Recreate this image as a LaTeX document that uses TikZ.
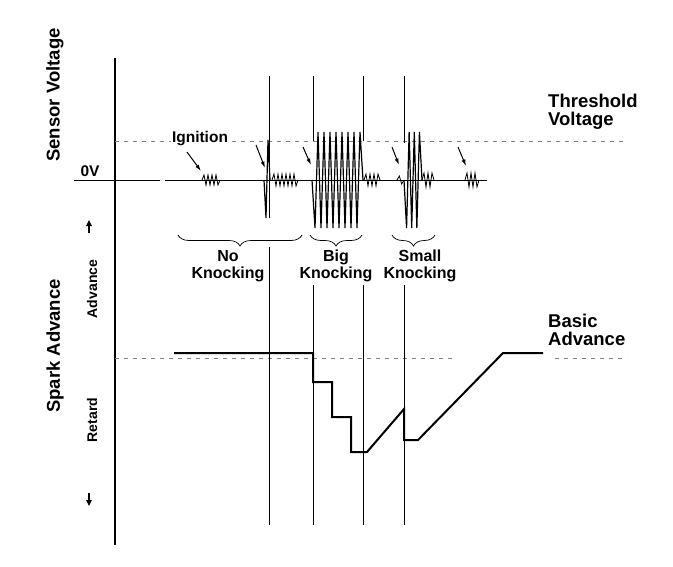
\documentclass[tikz,border=0pt]{standalone}
\usepackage{fontspec}
\setmainfont{Liberation Sans}
\usetikzlibrary{arrows.meta,decorations.pathreplacing}

\tikzset{
  signal/.style={line width=0.8pt},
  knock/.style={line width=1.2pt},
  spark/.style={line width=2pt},
  marker/.style={line width=0.5pt},
  level/.style={gray, line width=0.5pt, dash pattern=on 4pt off 5pt},
  pointer/.style={line width=1pt, -{Latex[length=6.5pt,width=4pt]}},
  dirarrow/.style={line width=1.2pt, -{Triangle[length=6pt,width=5.5pt]}},
  groupbrace/.style={decorate, decoration={brace, mirror, amplitude=11pt}, line width=0.7pt},
  bigtext/.style={font=\fontsize{18.5}{18.5}\selectfont\bfseries, inner sep=0pt, align=left},
  midtext/.style={font=\fontsize{16}{17.5}\selectfont\bfseries, inner sep=1pt, align=center, fill=white},
  smalltext/.style={font=\fontsize{14}{14}\selectfont\bfseries, inner sep=0pt}
}
% zigzag on the 0V line: from, to, amplitude, number of peaks, style
\newcommand\burst[5][signal]{%
  \draw[#1] (#2,180) \foreach \k in {1,...,#5} {
    -- ({#2+(#3-#2)*\k/(#5+1)},{180+#4*cos(180*\k)}) } -- (#3,180);
}

\begin{document}
\begin{tikzpicture}[x=1pt,y=-1pt]
    \useasboundingbox (0,0) rectangle (673,566);
    % Axis
    \draw[line width=1.3pt] (115,58) -- (115,545);
    % Levels
    \draw[level] (115,141) -- (627,141);
    \draw[level] (115,358) -- (455,358);
    \draw[level] (555,358) -- (627,358);
    % Markers (vertical lines)
    \foreach \x/\a/\b in {269/218/247, 313/141/285, 363/141/285, 404/143/285} {
      \draw[marker] (\x,76) -- (\x,\a);
      \draw[marker] (\x,\b) -- (\x,525);
    }
    % Sensor signal
    \draw[signal] (74,180) -- (160,180);
    \draw[signal] (165,180) -- (487,180);
    \burst{202}{220}{5}{8}
    \draw[knock] (264,180) -- (266,218) -- (268,140) -- (270,180);
    \burst{272}{298}{6}{12}
    \burst[knock]{312}{363}{-48}{16}
    \burst{364}{380}{6}{7}
    \burst{397}{404}{4}{2}
    \burst[knock]{404}{422}{-48}{6}
    \burst{422}{434}{7}{5}
    \burst{465}{479}{7}{6}
    % Pointers
    \foreach \n/\sx/\sy/\ex/\ey in {ign/187/152/201/171, spk/256/145/265/168,
        big/303/147/311/165, sml/392/147/399/165, lst/458/147/466/166} {
      \coordinate (\n-s) at (\sx,\sy);
      \coordinate (\n-e) at (\ex,\ey);
      \draw[pointer] (\n-s) -- (\n-e);
    }
    % Spark advance
    \draw[spark] (174,353) -- (313,353) -- (313,382) -- (332,382) -- (332,417)
      -- (351,417) -- (351,452) -- (367,452) -- (404,409) -- (404,440)
      -- (418,440) -- (503,353) -- (543,353);
    % Braces
    \draw[groupbrace] (178,235) -- (302,235);
    \draw[groupbrace] (310,235) -- (362,235);
    \draw[groupbrace] (392,235) -- (435,235);
    % Labels
    \node[bigtext, rotate=90] (sensor) at (55,95) {Sensor Voltage};
    \node[bigtext, rotate=90] (sparkadv) at (55,346) {Spark Advance};
    \node[font=\fontsize{15.5}{15.5}\selectfont\bfseries, inner sep=0pt] (zero) at (90,171) {0V};
    \node[font=\fontsize{15.5}{15.5}\selectfont\bfseries, inner sep=1pt, fill=white] (ignition) at (200,139) {Ignition};
    \node[bigtext, anchor=west] (threshold) at (548,112) {Threshold\\Voltage};
    \node[bigtext, anchor=west] (basic) at (548,330) {Basic\\Advance};
    \node[midtext] (noknock) at (228,266) {No\\Knocking};
    \node[midtext] (bigknock) at (336,266) {Big\\Knocking};
    \node[midtext] (smallknock) at (420,266) {Small\\Knocking};
    \node[smalltext, rotate=90] (adv) at (92,289) {Advance};
    \node[smalltext, rotate=90] (ret) at (92,420) {Retard};
    % Direction arrows
    \coordinate (up-s) at (89,233);
    \coordinate (up-e) at (89,220);
    \coordinate (dn-s) at (89,493);
    \coordinate (dn-e) at (89,506);
    \draw[dirarrow] (up-s) -- (up-e);
    \draw[dirarrow] (dn-s) -- (dn-e);
\end{tikzpicture}
\end{document}
